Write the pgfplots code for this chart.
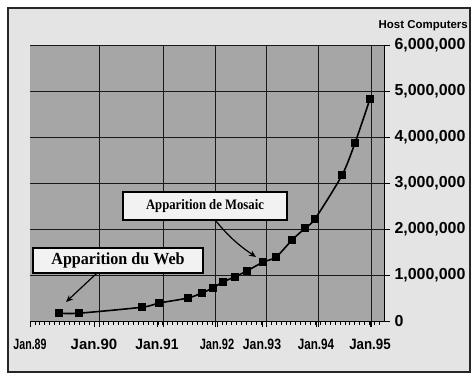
\documentclass[border=0pt]{standalone}
\usepackage{fontspec}
\usepackage{graphicx}
\usepackage{pgfplots}
\pgfplotsset{compat=1.18}
\usetikzlibrary{arrows.meta}
\setmainfont{Liberation Sans}
\newfontfamily\lserif{Liberation Serif}
\definecolor{plotgray}{HTML}{A6A6A6}
\definecolor{bggray}{HTML}{E4E4E4}
\definecolor{boxfill}{HTML}{F2F2F2}
\newcommand{\cx}[2]{\scalebox{#1}[1]{#2}}
\begin{document}
\begin{tikzpicture}[x=1bp,y=1bp]
\fill[white] (-30,-57) rectangle (446,321);
\fill[bggray] (-22,-51) rectangle (440,313);
\draw[line width=2.5bp, black!85] (-22,-51) rectangle (440,313);
\begin{axis}[
  at={(0,0)}, anchor=south west,
  scale only axis, width=354bp, height=276bp,
  xmin=30, xmax=384, ymin=0, ymax=6000000,
  axis x line*=bottom, axis y line*=right,
  axis line style={line width=1bp, black},
  axis background/.style={fill=plotgray},
  tick align=outside,
  major tick length=6bp, minor tick length=4bp,
  tick style={black, line width=0.7bp},
  xtick={30,94,157,217,262,316,370},
  xticklabels={\cx{0.71}{Jan.89},Jan.90,\cx{0.93}{Jan.91},\cx{0.74}{Jan.92},\cx{0.82}{Jan.93},\cx{0.78}{Jan.94},\cx{0.89}{Jan.95}},
  minor xtick={30,34.92,...,384},
  extra x ticks={99,163,215,266,318,371},
  extra x tick labels={},
  extra x tick style={grid=major},
  ytick={0,1000000,2000000,3000000,4000000,5000000,6000000},
  ymajorgrids=true,
  grid style={black!90, line width=0.8bp},
  scaled y ticks=false,
  /pgf/number format/.cd, fixed, 1000 sep={,}, assume math mode=true,
  /pgfplots/.cd,
  xticklabel style={font=\bfseries\fontsize{15}{15}\selectfont, yshift=-9bp},
  yticklabel style={font=\bfseries\fontsize{16}{16}\selectfont, xshift=1bp},
]
\addplot[black, line width=1.6bp, smooth, tension=0.45, mark=square*, mark size=3bp, mark options={solid, fill=black}]
coordinates {
(59,170000) (79,170000) (142,300000) (159,390000) (188,500000) (202,610000)
(213,720000) (223,850000) (235,960000) (247,1090000) (263,1280000) (276,1390000)
(292,1760000) (305,2020000) (315,2220000) (342,3170000) (355,3870000) (370,4830000)
};
\end{axis}
\node[anchor=east, font=\bfseries\fontsize{11.5}{12}\selectfont, inner sep=0pt] at (438,295) {Host Computers};
\node[draw=black, line width=1.4bp, fill=boxfill, minimum width=170bp, minimum height=25bp, inner sep=0pt,
  font=\lserif\bfseries\fontsize{17}{17}\selectfont] (web) at (88,60.5) {\cx{0.95}{Apparition du Web}};
\draw[black, line width=1.2bp, -{Stealth[length=7bp,width=6bp]}] (67,48) -- (36,19);
\node[draw=black, line width=1.4bp, fill=boxfill, minimum width=164bp, minimum height=28bp, inner sep=0pt,
  font=\lserif\bfseries\fontsize{14.5}{14.5}\selectfont] (mos) at (175,115) {\cx{0.88}{Apparition de Mosaic}};
\draw[black, line width=1.2bp, -{Stealth[length=7bp,width=6bp]}] (185,101) to[bend right=8] (226,64);
\pgfresetboundingbox
\path[use as bounding box] (-30,-57) rectangle (446,321);
\end{tikzpicture}
\end{document}
